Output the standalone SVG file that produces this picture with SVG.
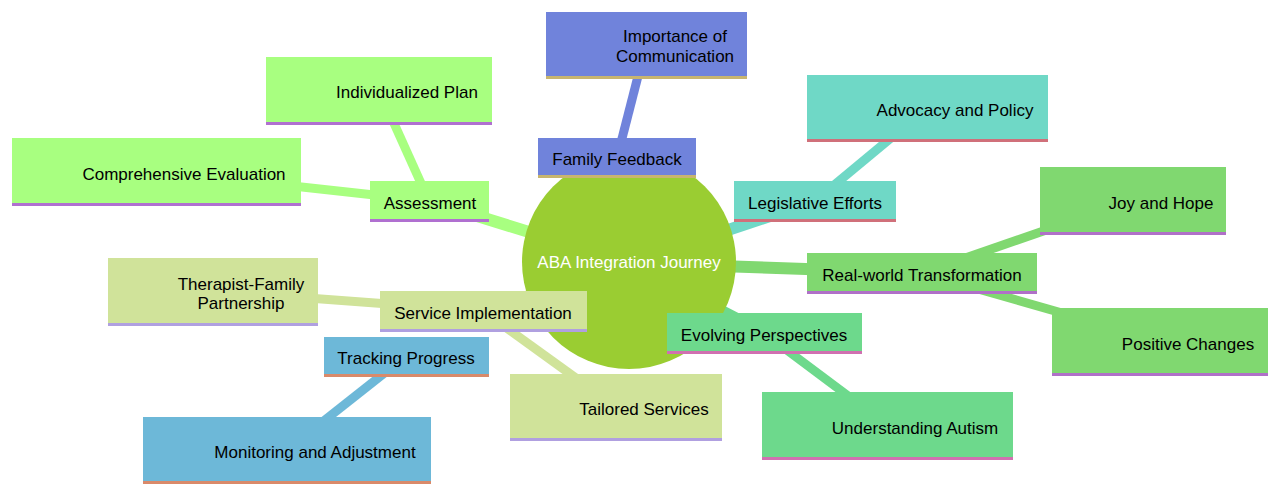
<svg xmlns="http://www.w3.org/2000/svg" width="1280" height="494" viewBox="0 0 1280 494">
<style>
text{font-family:"Liberation Sans",Arial,sans-serif;font-size:17px;fill:#000;text-anchor:middle}
.c1{fill:#7083db}.c2{fill:#6fd8c6}.c3{fill:#80d870}.c4{fill:#6dd98c}.c5{fill:#6db8d8}.c6{fill:#d0e39a}.c7{fill:#a8ff80}
line{stroke-linecap:butt}
</style>
<rect width="1280" height="494" fill="#fff"/>
<g id="connectors">
<line x1="629" y1="263" x2="617" y2="158" stroke="#7083db" stroke-width="12"/>
<line x1="617" y1="158" x2="646" y2="45" stroke="#7083db" stroke-width="9"/>
<line x1="629" y1="263" x2="815" y2="201" stroke="#6fd8c6" stroke-width="12"/>
<line x1="815" y1="201" x2="927" y2="108" stroke="#6fd8c6" stroke-width="9"/>
<line x1="629" y1="263" x2="922" y2="273" stroke="#80d870" stroke-width="12"/>
<line x1="922" y1="273" x2="1133" y2="200" stroke="#80d870" stroke-width="9"/>
<line x1="922" y1="273" x2="1160" y2="341" stroke="#80d870" stroke-width="9"/>
<line x1="629" y1="263" x2="764" y2="333" stroke="#6dd98c" stroke-width="12"/>
<line x1="764" y1="333" x2="887" y2="425" stroke="#6dd98c" stroke-width="9"/>
<line x1="629" y1="263" x2="483" y2="311" stroke="#d0e39a" stroke-width="12"/>
<line x1="483" y1="311" x2="213" y2="291" stroke="#d0e39a" stroke-width="9"/>
<line x1="483" y1="311" x2="616" y2="407" stroke="#d0e39a" stroke-width="9"/>
<line x1="406" y1="356" x2="287" y2="450" stroke="#6db8d8" stroke-width="9"/>
<line x1="629" y1="263" x2="429" y2="201" stroke="#a8ff80" stroke-width="12"/>
<line x1="429" y1="201" x2="379" y2="90" stroke="#a8ff80" stroke-width="9"/>
<line x1="429" y1="201" x2="156" y2="171" stroke="#a8ff80" stroke-width="9"/>
</g>
<g id="root"><circle cx="629" cy="262" r="107" fill="#9acd32"/><text x="629" y="268" style="fill:#fff">ABA Integration Journey</text></g>
<g id="n-imp"><rect class="c1" x="546" y="12" width="201" height="66"/><rect x="546" y="76" width="201" height="3" fill="#c8b56f"/><text x="675" y="42">Importance of</text><text x="675" y="62">Communication</text></g>
<g id="n-ff"><rect class="c1" x="538" y="138" width="158" height="39"/><rect x="538" y="175" width="158" height="3" fill="#c8b56f"/><text x="617" y="165">Family Feedback</text></g>
<g id="n-adv"><rect class="c2" x="807" y="75" width="241" height="66"/><rect x="807" y="139" width="241" height="3" fill="#d0707a"/><text x="955" y="116">Advocacy and Policy</text></g>
<g id="n-leg"><rect class="c2" x="734" y="181" width="162" height="40"/><rect x="734" y="219" width="162" height="3" fill="#d0707a"/><text x="815" y="209">Legislative Efforts</text></g>
<g id="n-joy"><rect class="c3" x="1040" y="167" width="186" height="67"/><rect x="1040" y="232" width="186" height="3" fill="#b070c8"/><text x="1161" y="209">Joy and Hope</text></g>
<g id="n-rwt"><rect class="c3" x="807" y="253" width="230" height="40"/><rect x="807" y="291" width="230" height="3" fill="#b070c8"/><text x="922" y="281">Real-world Transformation</text></g>
<g id="n-pos"><rect class="c3" x="1052" y="308" width="216" height="67"/><rect x="1052" y="373" width="216" height="3" fill="#b070c8"/><text x="1188" y="350">Positive Changes</text></g>
<g id="n-evo"><rect class="c4" x="667" y="313" width="195" height="40"/><rect x="667" y="351" width="195" height="3" fill="#d070b0"/><text x="764" y="341">Evolving Perspectives</text></g>
<g id="n-und"><rect class="c4" x="762" y="392" width="251" height="67"/><rect x="762" y="457" width="251" height="3" fill="#d070b0"/><text x="915" y="434">Understanding Autism</text></g>
<g id="n-svc"><rect class="c6" x="380" y="291" width="207" height="40"/><rect x="380" y="329" width="207" height="3" fill="#b0a0e0"/><text x="483" y="319">Service Implementation</text></g>
<g id="n-thp"><rect class="c6" x="108" y="258" width="210" height="67"/><rect x="108" y="323" width="210" height="3" fill="#b0a0e0"/><text x="241" y="290">Therapist-Family</text><text x="241" y="309">Partnership</text></g>
<g id="n-tai"><rect class="c6" x="510" y="374" width="212" height="66"/><rect x="510" y="438" width="212" height="3" fill="#b0a0e0"/><text x="644" y="415">Tailored Services</text></g>
<g id="n-trk"><rect class="c5" x="324" y="337" width="165" height="39"/><rect x="324" y="374" width="165" height="3" fill="#d98a6a"/><text x="406" y="364">Tracking Progress</text></g>
<g id="n-mon"><rect class="c5" x="143" y="417" width="288" height="66"/><rect x="143" y="481" width="288" height="3" fill="#d98a6a"/><text x="315" y="458">Monitoring and Adjustment</text></g>
<g id="n-ass"><rect class="c7" x="370" y="181" width="119" height="40"/><rect x="370" y="219" width="119" height="3" fill="#b070d0"/><text x="430" y="209">Assessment</text></g>
<g id="n-ind"><rect class="c7" x="266" y="57" width="226" height="67"/><rect x="266" y="122" width="226" height="3" fill="#b070d0"/><text x="407" y="98">Individualized Plan</text></g>
<g id="n-cmp"><rect class="c7" x="12" y="138" width="289" height="67"/><rect x="12" y="203" width="289" height="3" fill="#b070d0"/><text x="184" y="180">Comprehensive Evaluation</text></g>
</svg>
